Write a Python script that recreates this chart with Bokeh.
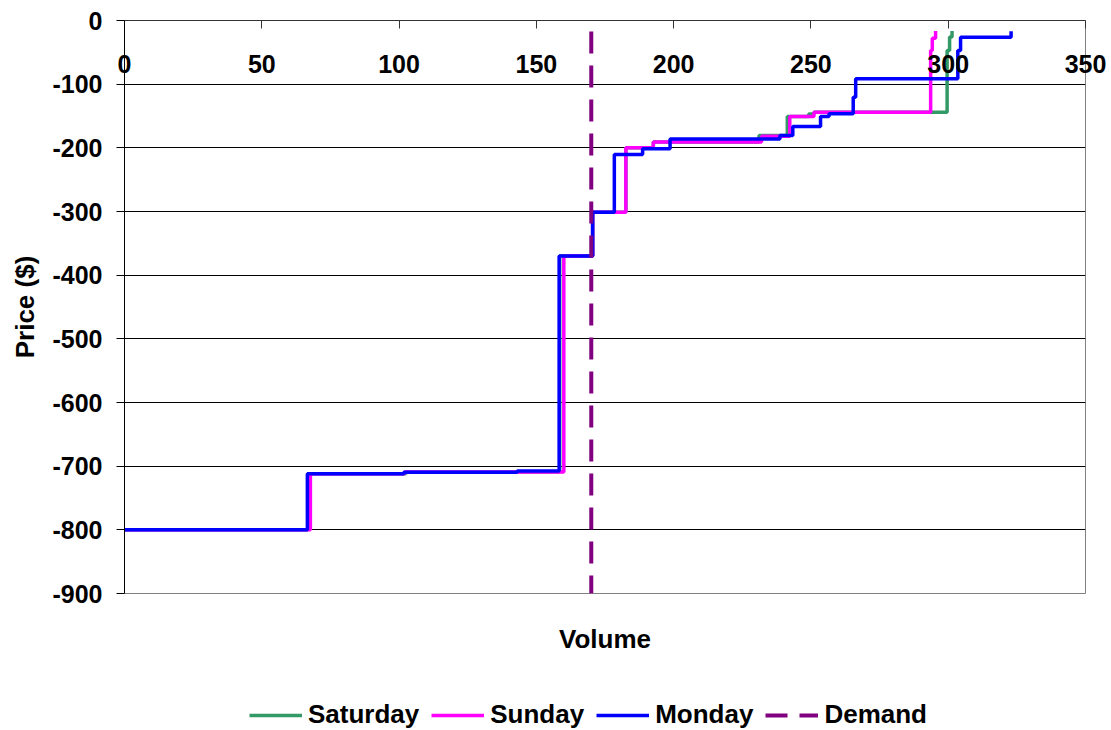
from bokeh.plotting import figure
from bokeh.layouts import column
from bokeh.models import Range1d, FixedTicker, Legend, LegendItem, LinearAxis, NumeralTickFormatter
from bokeh.embed import file_html
from bokeh.resources import INLINE

# ---- data ----
sat_volume = [0, 66.8, 102.5, 158.5, 170.5, 182.6, 192.6, 231.1, 241.4, 249.2, 251.1, 299.6, 300.5, 301.4]
sat_price = [-800, -712, -709, -370, -301, -200, -191, -180.6, -150.8, -147, -144, -47, -26, -16.5]

sun_volume = [0, 67.7, 102.0, 160.0, 170.5, 182.6, 192.6, 232.0, 242.3, 251.1, 293.6, 294.2, 295.4]
sun_price = [-800, -712, -709, -370, -301, -200, -191, -182, -150.8, -144, -47, -28, -16.5]

mon_volume = [0, 66.6, 101.7, 143.0, 158.3, 170.5, 178.4, 188.7, 198.7, 238.7, 243.4, 253.5, 256.6, 265.4, 266.3, 303.5, 304.5, 322.9]
mon_price = [-800, -712, -709.4, -707.5, -370, -301, -210.5, -201.5, -186, -180.6, -166.5, -150.8, -146.6, -120.4, -91.6, -47, -26.2, -16.7]

demand_volume = [170, 170]
demand_price = [0, -900]

x_ticks = [0, 50, 100, 150, 200, 250, 300, 350]
y_ticks = [0, -100, -200, -300, -400, -500, -600, -700, -800, -900]

series_names = ["Saturday", "Sunday", "Monday", "Demand"]
series_colors = ["#339966", "#FF00FF", "#0000FF", "#800080"]

FONT = "Liberation Sans"

p = figure(width=1111, height=690, x_range=Range1d(0, 350), y_range=Range1d(-900, 0),
           output_backend="svg", toolbar_location=None, x_axis_location="above",
           min_border_left=124, min_border_right=26, min_border_top=20, min_border_bottom=97)

p.outline_line_color = "#808080"
p.outline_line_width = 1
p.xgrid.visible = False
p.ygrid.ticker = FixedTicker(ticks=y_ticks)
p.ygrid.grid_line_color = "black"
p.ygrid.grid_line_width = 1

# top x axis: ticks point down into the plot, labels inside
xa = p.xaxis[0]
xa.ticker = FixedTicker(ticks=x_ticks)
xa.major_tick_in = 8
xa.major_tick_out = 0
xa.minor_tick_line_color = None
xa.axis_line_color = "#333333"
xa.major_tick_line_color = "#333333"
xa.major_label_standoff = -52
xa.major_label_text_font = FONT
xa.major_label_text_font_style = "bold"
xa.major_label_text_font_size = "25px"
xa.major_label_text_color = "black"

# y axis
ya = p.yaxis[0]
ya.ticker = FixedTicker(ticks=y_ticks)
ya.formatter = NumeralTickFormatter(format="0")
ya.major_tick_in = 0
ya.major_tick_out = 8
ya.minor_tick_line_color = None
ya.axis_line_color = "black"
ya.major_tick_line_color = "black"
ya.major_label_standoff = 14
ya.major_label_text_font = FONT
ya.major_label_text_font_style = "bold"
ya.major_label_text_font_size = "25px"
ya.major_label_text_color = "black"
ya.axis_label = "Price ($)"
ya.axis_label_standoff = 9
ya.axis_label_text_font = FONT
ya.axis_label_text_font_style = "bold"
ya.axis_label_text_font_size = "26px"
ya.axis_label_text_color = "black"

# bottom axis carrying only the "Volume" title
vol_axis = LinearAxis(ticker=FixedTicker(ticks=[]), axis_label="Volume")
vol_axis.axis_line_color = None
vol_axis.major_tick_line_color = None
vol_axis.minor_tick_line_color = None
vol_axis.major_tick_out = 0
vol_axis.major_tick_in = 0
vol_axis.minor_tick_out = 0
vol_axis.major_label_standoff = 0
vol_axis.axis_label_standoff = 30
vol_axis.axis_label_text_font = FONT
vol_axis.axis_label_text_font_style = "bold"
vol_axis.axis_label_text_font_size = "26px"
vol_axis.axis_label_text_color = "black"
p.add_layout(vol_axis, "below")

r_sat = p.step(sat_volume, sat_price, mode="after", line_color=series_colors[0], line_width=3.5)
r_sun = p.step(sun_volume, sun_price, mode="after", line_color=series_colors[1], line_width=3.5)
r_mon = p.step(mon_volume, mon_price, mode="after", line_color=series_colors[2], line_width=3.5)
r_dem = p.line(demand_volume, demand_price, line_color=series_colors[3], line_width=4,
               line_dash="22 12", line_dash_offset=23)

# legend strip below the chart (same series, drawn outside its visible range)
lg = figure(width=1111, height=40, x_range=Range1d(0, 350), y_range=Range1d(1000, 1001),
            output_backend="svg", toolbar_location=None,
            x_axis_location=None, y_axis_location=None,
            min_border_left=0, min_border_right=0, min_border_top=0, min_border_bottom=0)
lg.grid.visible = False
lg.outline_line_color = None
k_sat = lg.step(sat_volume, sat_price, mode="after", line_color=series_colors[0], line_width=3.5)
k_sun = lg.step(sun_volume, sun_price, mode="after", line_color=series_colors[1], line_width=3.5)
k_mon = lg.step(mon_volume, mon_price, mode="after", line_color=series_colors[2], line_width=3.5)
k_dem = lg.line(demand_volume, demand_price, line_color=series_colors[3], line_width=4, line_dash="22 12")

legend = Legend(items=[LegendItem(label=series_names[0], renderers=[k_sat]),
                       LegendItem(label=series_names[1], renderers=[k_sun]),
                       LegendItem(label=series_names[2], renderers=[k_mon]),
                       LegendItem(label=series_names[3], renderers=[k_dem])],
                orientation="horizontal", location=(125, 0),
                glyph_width=53, glyph_height=28, label_standoff=6, spacing=12,
                padding=0, margin=0, border_line_color=None, background_fill_alpha=0,
                label_text_font=FONT, label_text_font_style="bold",
                label_text_font_size="26px", label_text_color="black")
lg.add_layout(legend)

open("out.html", "w").write(file_html(column(p, lg, spacing=0), INLINE))
